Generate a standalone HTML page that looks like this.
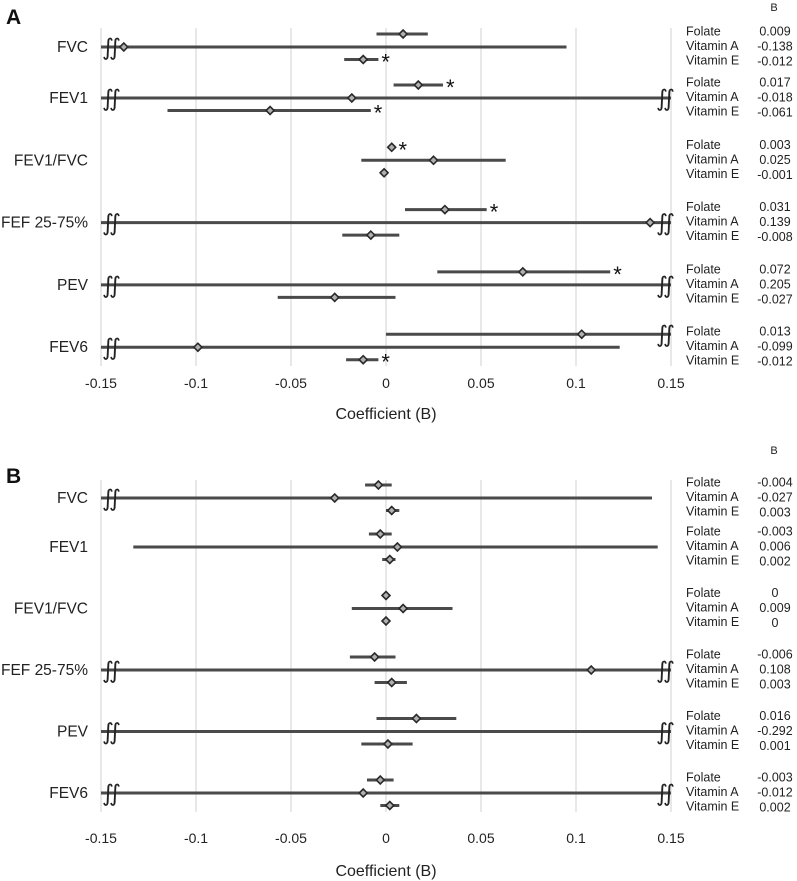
<!DOCTYPE html>
<html><head><meta charset="utf-8">
<style>
html,body{margin:0;padding:0;background:#fff;}
svg{display:block;font-family:"Liberation Sans","DejaVu Sans",sans-serif;}
</style></head>
<body>
<svg id="chart" width="797" height="881" viewBox="0 0 797 881"></svg>
<script>
// ---------- DATA ----------
const outcomes = ["FVC","FEV1","FEV1/FVC","FEF 25-75%","PEV","FEV6"];
const vitamins = ["Folate","Vitamin A","Vitamin E"];
const ticks = [-0.15,-0.1,-0.05,0,0.05,0.1,0.15];
const tickLabels = ["-0.15","-0.1","-0.05","0","0.05","0.1","0.15"];

// Panel A
const aFolateB  = [0.009, 0.017, 0.003, 0.031, 0.072, 0.103];
const aFolateLo = [-0.005, 0.004, 0.001, 0.010, 0.027, 0.000];
const aFolateHi = [0.022, 0.030, 0.005, 0.053, 0.118, 0.2];
const aVitAB    = [-0.138, -0.018, 0.025, 0.139, 0.205, -0.099];
const aVitALo   = [-0.2, -0.2, -0.013, -0.2, -0.2, -0.2];
const aVitAHi   = [0.095, 0.2, 0.063, 0.2, 0.2, 0.123];
const aVitEB    = [-0.012, -0.061, -0.001, -0.008, -0.027, -0.012];
const aVitELo   = [-0.022, -0.115, -0.003, -0.023, -0.057, -0.021];
const aVitEHi   = [-0.004, -0.008, 0.001, 0.007, 0.005, -0.004];
const aFolateStar = [0,1,1,1,1,0];
const aVitEStar   = [1,1,0,0,0,1];
const aTableFolate = ["0.009","0.017","0.003","0.031","0.072","0.013"];
const aTableVitA   = ["-0.138","-0.018","0.025","0.139","0.205","-0.099"];
const aTableVitE   = ["-0.012","-0.061","-0.001","-0.008","-0.027","-0.012"];

// Panel B
const bFolateB  = [-0.004, -0.003, 0, -0.006, 0.016, -0.003];
const bFolateLo = [-0.011, -0.009, -0.002, -0.019, -0.005, -0.010];
const bFolateHi = [0.003, 0.003, 0.002, 0.005, 0.037, 0.004];
const bVitAB    = [-0.027, 0.006, 0.009, 0.108, -0.292, -0.012];
const bVitALo   = [-0.2, -0.133, -0.018, -0.2, -0.2, -0.2];
const bVitAHi   = [0.140, 0.143, 0.035, 0.2, 0.2, 0.2];
const bVitEB    = [0.003, 0.002, 0, 0.003, 0.001, 0.002];
const bVitELo   = [0.000, -0.002, -0.002, -0.006, -0.013, -0.003];
const bVitEHi   = [0.007, 0.005, 0.002, 0.011, 0.014, 0.007];
const bFolateStar = [0,0,0,0,0,0];
const bVitEStar   = [0,0,0,0,0,0];
const bTableFolate = ["-0.004","-0.003","0","-0.006","0.016","-0.003"];
const bTableVitA   = ["-0.027","0.006","0.009","0.108","-0.292","-0.012"];
const bTableVitE   = ["0.003","0.002","0","0.003","0.001","0.002"];

// ---------- DRAWING ----------
const NS = "http://www.w3.org/2000/svg";
const svg = document.getElementById("chart");
const XMIN=-0.15, XMAX=0.15, PX0=101, PX1=671;
function xs(v){ return PX0 + (v - XMIN) / (XMAX - XMIN) * (PX1 - PX0); }
function mk(tag, attrs, parent){
  const e = document.createElementNS(NS, tag);
  for (const k in attrs) e.setAttribute(k, attrs[k]);
  (parent || svg).appendChild(e);
  return e;
}
const LINE = "#4a4a4a";

function drawBreak(g, x0, y, name){
  for (let k = 0; k < 2; k++){
    const br = mk("text", {x:x0 + k*7, y:y+8, "font-size":23, "font-family":"DejaVu Sans, sans-serif", fill:"#222"}, g);
    br.textContent = "∫";
    
    
  }
}

function drawPanel(cfg){
  const g = mk("g", {});
  
  
  function rowY(i){ return i === 0 ? cfg.base : cfg.base + cfg.gap1 + (i - 1) * cfg.step; }

  const letter = mk("text", {x:6, y:cfg.letterY, "font-size":21, "font-weight":"bold", fill:"#111"}, g);
  letter.textContent = cfg.letter;
  
  

  ticks.forEach((t, k) => {
    const gl = mk("line", {x1:xs(t), x2:xs(t), y1:cfg.gridTop, y2:cfg.gridBottom, stroke:"#dcdcdc", "stroke-width":1.3}, g);
    
    
    const tl = mk("text", {x:xs(t), y:cfg.tickY, "text-anchor":"middle", "font-size":14, fill:"#222"}, g);
    tl.textContent = tickLabels[k];
    
    
  });
  const title = mk("text", {x:xs(0), y:cfg.titleY, "text-anchor":"middle", "font-size":16, fill:"#222"}, g);
  title.textContent = "Coefficient (B)";
  
  

  const hdr = mk("text", {x:774, y:cfg.hdrY, "text-anchor":"middle", "font-size":11, fill:"#222"}, g);
  hdr.textContent = "B";
  
  

  const series = [
    {b:cfg.folB, lo:cfg.folLo, hi:cfg.folHi, star:cfg.folStar, tab:cfg.tabF, off:-13},
    {b:cfg.vaB, lo:cfg.vaLo, hi:cfg.vaHi, star:null, tab:cfg.tabA, off:0},
    {b:cfg.veB, lo:cfg.veLo, hi:cfg.veHi, star:cfg.veStar, tab:cfg.tabE, off:12.5}
  ];

  outcomes.forEach((name, i) => {
    const yc = rowY(i);
    const lab = mk("text", {x:88, y:yc+5, "text-anchor":"end", "font-size":15.5, fill:"#222"}, g);
    lab.textContent = name;
    
    

    series.forEach((s, j) => {
      const y = yc + s.off;
      const lo = Math.max(s.lo[i], XMIN), hi = Math.min(s.hi[i], XMAX);
      const ci = mk("line", {x1:xs(lo), x2:xs(hi), y1:y, y2:y, stroke:LINE, "stroke-width":3}, g);
      
      
      if (s.lo[i] < XMIN) drawBreak(g, xs(XMIN)+1, y, 'axis-break-left');
      if (s.hi[i] > XMAX) drawBreak(g, xs(XMAX)-15, y, 'axis-break-right');
      const b = s.b[i];
      if (b >= XMIN && b <= XMAX){
        const px = xs(b);
        const d = mk("polygon", {points:`${px-4},${y} ${px},${y-4} ${px+4},${y} ${px},${y+4}`, fill:"#b0b0b0", stroke:"#2a2a2a", "stroke-width":1.6}, g);
        
        
      }
      if (s.star && s.star[i]){
        const st = mk("text", {x:xs(hi)+3, y:y+10, "font-size":22, fill:"#111"}, g);
        st.textContent = "*";
        
        
      }
      const tn = mk("text", {x:686, y:yc + (j-1)*14.5 + 3, "font-size":12.5, fill:"#222"}, g);
      tn.textContent = vitamins[j];
      
      
      const tv = mk("text", {x:775, y:yc + (j-1)*15 + 3.5, "text-anchor":"middle", "font-size":12.5, fill:"#222"}, g);
      tv.textContent = s.tab[i];
      
      
    });
  });
}

drawPanel({name:"panel-a", letter:"A", letterY:24, base:47, gap1:51, step:62.3,
  gridTop:28, gridBottom:366, tickY:388, titleY:419, hdrY:11,
  folB:aFolateB, folLo:aFolateLo, folHi:aFolateHi, folStar:aFolateStar,
  vaB:aVitAB, vaLo:aVitALo, vaHi:aVitAHi,
  veB:aVitEB, veLo:aVitELo, veHi:aVitEHi, veStar:aVitEStar,
  tabF:aTableFolate, tabA:aTableVitA, tabE:aTableVitE});

drawPanel({name:"panel-b", letter:"B", letterY:483, base:498, gap1:49, step:61.5,
  gridTop:480, gridBottom:812, tickY:843, titleY:876, hdrY:454,
  folB:bFolateB, folLo:bFolateLo, folHi:bFolateHi, folStar:bFolateStar,
  vaB:bVitAB, vaLo:bVitALo, vaHi:bVitAHi,
  veB:bVitEB, veLo:bVitELo, veHi:bVitEHi, veStar:bVitEStar,
  tabF:bTableFolate, tabA:bTableVitA, tabE:bTableVitE});
</script>
</body></html>
